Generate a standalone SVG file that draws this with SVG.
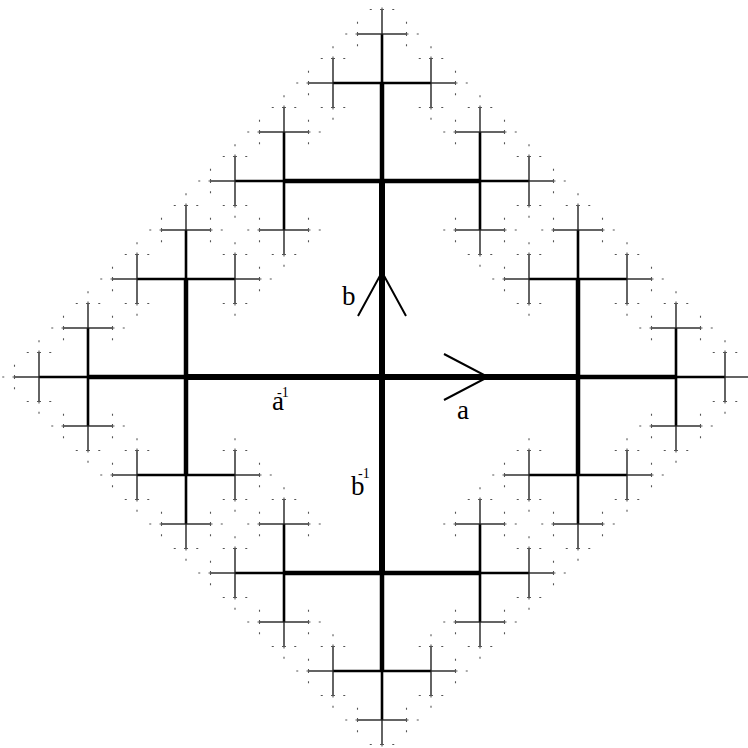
<svg xmlns="http://www.w3.org/2000/svg" xmlns:xlink="http://www.w3.org/1999/xlink" width="748" height="748" viewBox="0 0 748 748">
<style>
.w1{stroke:#000;stroke-width:6;fill:none}
.w2{stroke:#000;stroke-width:4.5;fill:none}
.w3{stroke:#000;stroke-width:2.6;fill:none}
.w4{stroke:#222;stroke-width:1.4;fill:none}
.w5{stroke:#555;stroke-width:1.1;fill:none;stroke-dasharray:2 8.25 2}
.arr{stroke:#000;stroke-width:2;fill:none}
.lbl{font-family:"Liberation Serif","Times New Roman",serif;font-size:27px;fill:#000}
.sup{font-family:"Liberation Serif","Times New Roman",serif;font-size:14px;fill:#000}
</style>
<rect width="748" height="748" fill="#fff"/>
<defs>
<g id="g5"><line x1="0" y1="0" x2="12.25" y2="0" class="w5"/></g>
<g id="g4"><line x1="0" y1="0" x2="24.5" y2="0" class="w4"/>
<use xlink:href="#g5" href="#g5" transform="translate(24.5,0)"/>
<use xlink:href="#g5" href="#g5" transform="translate(24.5,0) rotate(90)"/>
<use xlink:href="#g5" href="#g5" transform="translate(24.5,0) rotate(-90)"/></g>
<g id="g3"><line x1="0" y1="0" x2="49" y2="0" class="w3"/>
<use xlink:href="#g4" href="#g4" transform="translate(49,0)"/>
<use xlink:href="#g4" href="#g4" transform="translate(49,0) rotate(90)"/>
<use xlink:href="#g4" href="#g4" transform="translate(49,0) rotate(-90)"/></g>
<g id="g2"><line x1="0" y1="0" x2="98" y2="0" class="w2"/>
<use xlink:href="#g3" href="#g3" transform="translate(98,0)"/>
<use xlink:href="#g3" href="#g3" transform="translate(98,0) rotate(90)"/>
<use xlink:href="#g3" href="#g3" transform="translate(98,0) rotate(-90)"/></g>
<g id="g1"><line x1="0" y1="0" x2="196" y2="0" class="w1"/>
<use xlink:href="#g2" href="#g2" transform="translate(196,0)"/>
<use xlink:href="#g2" href="#g2" transform="translate(196,0) rotate(90)"/>
<use xlink:href="#g2" href="#g2" transform="translate(196,0) rotate(-90)"/></g>
</defs>
<g id="tree" transform="translate(382,377)">
<g id="branch-a"><use xlink:href="#g1" href="#g1"/></g>
<g id="branch-b-inv"><use xlink:href="#g1" href="#g1" transform="rotate(90)"/></g>
<g id="branch-a-inv"><use xlink:href="#g1" href="#g1" transform="rotate(180)"/></g>
<g id="branch-b"><use xlink:href="#g1" href="#g1" transform="rotate(-90)"/></g>
</g>
<g id="arrows">
<polyline class="arr" points="358,316 382,272 406,316"/>
<polyline class="arr" points="444,354 488,377 444,400"/>
</g>
<g id="labels">
<text class="lbl" x="342" y="305">b</text>
<text class="lbl" x="351" y="495">b</text>
<text class="sup" x="358" y="478">-1</text>
<text class="lbl" x="272" y="410">a</text>
<text class="sup" x="277" y="397">-1</text>
<text class="lbl" x="457" y="419">a</text>
</g>
</svg>
